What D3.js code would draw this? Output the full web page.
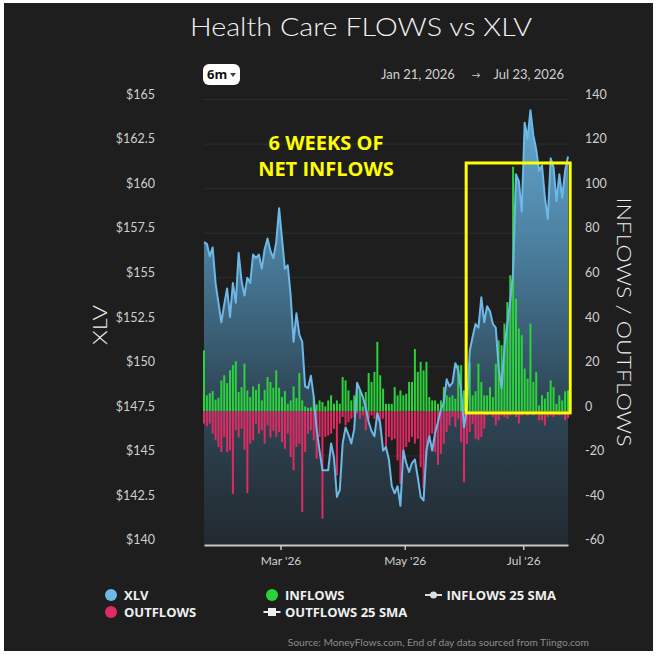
<!DOCTYPE html>
<html><head><meta charset="utf-8">
<script src="https://cdn.jsdelivr.net/npm/d3@7"></script>
<style>html,body{margin:0;padding:0;background:#fff;} svg{display:block;}</style>
</head><body><svg id="c" width="658" height="658"></svg>
<script>
// ---------- DATA ----------
const monthNames = ["Jan","Feb","Mar","Apr","May","Jun","Jul"];
const tradingDays = [
 [21,22,23,26,27,28,29,30],
 [2,3,4,5,6,9,10,11,12,13,17,18,19,20,23,24,25,26,27],
 [2,3,4,5,6,9,10,11,12,13,16,17,18,19,20,23,24,25,26,27,30,31],
 [1,2,6,7,8,9,10,13,14,15,16,17,20,21,22,23,24,27,28,29,30],
 [1,4,5,6,7,8,11,12,13,14,15,18,19,20,21,22,26,27,28,29],
 [1,2,3,4,5,8,9,10,11,12,15,16,17,18,22,23,24,25,26,29,30],
 [1,2,6,7,8,9,10,13,14,15,16,17,20,21,22,23]
];
const xlv = [
 157.0,156.9,156.2,156.7,154.7,153.6,152.5,153.5,154.4,152.8,
 154.7,153.6,156.4,154.8,154.0,155.0,154.7,156.3,156.1,156.3,
 155.5,156.6,157.2,156.5,156.1,157.0,158.9,157.2,155.5,155.7,
 154.0,151.4,153.0,151.8,151.4,148.9,148.8,149.5,148.3,146.5,
 145.3,144.2,144.2,144.2,145.7,144.9,142.7,143.1,145.7,146.6,
 146.2,145.7,146.5,149.1,148.7,148.3,147.7,146.9,146.4,146.1,
 147.4,146.8,145.3,145.5,144.8,143.3,142.9,143.3,142.2,145.3,
 144.6,144.1,144.6,144.8,143.8,142.7,142.5,145.3,146.1,145.3,
 146.3,146.9,147.6,148.0,149.3,148.9,149.1,150.2,149.8,148.7,
 146.6,147.6,150.9,151.7,152.4,152.2,153.9,152.5,153.4,153.1,
 152.4,152.2,149.9,148.8,151.1,152.4,153.7,155.3,160.8,160.4,
 158.7,163.7,162.8,164.4,163.0,162.2,161.0,161.3,159.5,158.3,
 161.7,161.2,159.3,160.8,159.5,161.0,161.8
];
const inflows = [
 27.4,7.2,8.2,9.1,5.2,6.1,13.9,16.2,12.7,18.4,
 20.7,22.5,8.7,10.9,21.4,9.4,6.4,11.2,9.7,12.4,
 4.9,9.7,15.4,13.2,10.6,18.4,10.6,6.4,9.1,3.4,
 4.9,11.2,6.0,17.2,4.9,2.2,1.6,1.8,6.4,3.1,
 4.9,4.2,2.2,4.9,7.2,3.4,4.9,3.4,15.4,13.9,
 9.4,4.9,7.2,11.7,9.7,2.2,8.7,17.2,13.2,17.7,
 31.2,16.2,10.2,3.4,3.4,3.4,10.9,7.2,9.4,7.2,
 7.9,13.2,13.2,28.0,17.7,22.2,18.4,22.2,6.4,4.9,
 4.9,3.4,4.9,10.9,7.2,6.4,7.2,5.7,20.7,20.7,
 9.4,10.2,22.0,7.2,9.0,21.4,13.2,7.2,7.2,10.9,
 6.4,21.4,31.9,29.7,39.4,49.1,61.1,109.8,50.6,37.2,
 34.2,19.2,14.7,39.4,13.2,17.7,2.7,7.2,5.7,8.7,
 13.9,10.9,3.4,7.2,4.9,9.0,9.4
];
const outflows = [
 -5.5,-6.7,-5.5,-10,-13,-16,-18.3,-11.5,-18.3,-17.5,
 -37,-8.5,-11.8,-7.8,-17.2,-36.7,-14.5,-13,-5.5,-10,
 -8.5,-14.5,-6.3,-11.8,-8.8,-11.5,-9.3,-13.8,-16.8,-10,
 -20.5,-26.5,-16,-14.5,-45.2,-18.3,-10,-8.5,-13,-21.3,
 -11.5,-48.2,-11.5,-10.8,-10,-7.8,-28.8,-5.5,-2.5,-6.3,
 -4.8,-3.3,-2.5,-1,-3.3,-1.8,-8.5,-3.3,-1.8,-3.3,
 -3.3,-8.5,-3.3,-17.5,-11.5,-13,-12.3,-22,-32.5,-20.5,
 -16,-13.8,-11.5,-14.5,-12.3,-25,-34.6,-20.5,-12.3,-10,
 -18.3,-24,-19,-14.5,-9.3,-6.3,-2.5,-7,-3.3,-13.8,
 -31.8,-14.5,-9.3,-5.5,-12.3,-13,-11.5,-7.8,-1.8,-1,
 -2.5,-6.3,-4,-1.8,-2.5,-3.3,-1.8,-1,-2.5,-5.5,
 -1.8,-1,-1.8,-1,-1.8,-1,-4,-4,-6.3,-2.5,
 -1.8,-2.5,-1.5,-1.8,-1.5,-4,-3
];
const priceTicks = [140,142.5,145,147.5,150,152.5,155,157.5,160,162.5,165];
const flowTicks = [-60,-40,-20,0,20,40,60,80,100,120,140];
const xTickLabels = ["Mar '26","May '26","Jul '26"];
const xTickMonths = ["Mar","May","Jul"];
const annotationLines = ["6 WEEKS OF","NET INFLOWS"];
const boxStart = "Jun 2", boxEnd = "Jul 23", boxTop = 111.5, boxBottom = -0.7;

// ---------- BUILD ----------
const dates = [];
tradingDays.forEach((days, m) => days.forEach(d => dates.push({m: monthNames[m], d})));
const rows = dates.map((dt, i) => ({i, dt, price: xlv[i], inf: inflows[i], out: outflows[i]}));

const svg = d3.select("#c");
const W = 658, H = 658;
const L = 204, R = 568, T = 99.5, B = 545;

svg.append("rect").attr("width", W).attr("height", H).attr("fill", "#ffffff");
svg.append("rect").attr("x", 4).attr("y", 3).attr("width", 649).attr("height", 648).attr("fill", "#1e1e1e");

const x = d3.scaleLinear().domain([0, rows.length - 1]).range([L, R]);
const yP = d3.scaleLinear().domain([140, 165]).range([B, T]);
const yF = d3.scaleLinear().domain([-60, 140]).range([B, T]);

const defs = svg.append("defs");
const grad = defs.append("linearGradient").attr("id", "ag")
  .attr("gradientUnits", "userSpaceOnUse").attr("x1", 0).attr("x2", 0)
  .attr("y1", yP(165)).attr("y2", yP(140));
[[0, "#66acd6"], [0.35, "#497c9b"], [0.65, "#304a5b"], [1, "#22292f"]]
  .forEach(([o, c]) => grad.append("stop").attr("offset", o).attr("stop-color", c));

// grid
svg.append("g").selectAll("line").data(priceTicks).join("line")
  .attr("x1", L).attr("x2", R).attr("y1", d => yP(d)).attr("y2", d => yP(d))
  .attr("stroke", "#2e2e2e").attr("stroke-width", 1);

// area + bars + line
svg.append("path").datum(rows)
  .attr("d", d3.area().x(d => x(d.i)).y0(yP(140)).y1(d => yP(d.price)))
  .attr("fill", "url(#ag)");

const bw = 2;
svg.append("g").selectAll("rect").data(rows).join("rect")
  .attr("x", d => x(d.i) - bw / 2).attr("width", bw)
  .attr("y", d => yF(d.inf)).attr("height", d => yF(0) - yF(d.inf))
  .attr("fill", "#2bd23a");
svg.append("g").selectAll("rect").data(rows).join("rect")
  .attr("x", d => x(d.i) - bw / 2).attr("width", bw)
  .attr("y", yF(0)).attr("height", d => yF(d.out) - yF(0))
  .attr("fill", "#e02a63");

svg.append("path").datum(rows)
  .attr("d", d3.line().x(d => x(d.i)).y(d => yP(d.price)))
  .attr("fill", "none").attr("stroke", "#6db8e6").attr("stroke-width", 2).attr("stroke-linejoin", "round");

// axes
const font = "Lato, 'Open Sans', sans-serif";
const tickPos = xTickMonths.map(m => rows.find(r => r.dt.m === m).i - 0.5);
const gx = svg.append("g").attr("transform", `translate(0,${B})`)
  .call(d3.axisBottom(x).tickValues(tickPos).tickFormat((d, k) => xTickLabels[k]).tickSize(5).tickSizeOuter(0).tickPadding(6));
gx.select(".domain").attr("stroke", "#c8c8c8").attr("stroke-width", 2);
gx.selectAll(".tick line").attr("stroke", "#c8c8c8").attr("stroke-width", 1.5);
gx.selectAll("text").attr("fill", "#cfcfcf").attr("font-size", 12).attr("font-family", font);

const gl = svg.append("g").attr("transform", "translate(155,0)")
  .call(d3.axisLeft(yP).tickValues(priceTicks).tickFormat(d => "$" + d).tickSize(0).tickPadding(0));
gl.select(".domain").remove();
gl.selectAll("text").attr("fill", "#cfcfcf").attr("font-size", 12.5).attr("font-family", font).attr("dy", "-0.1em");

const gr = svg.append("g").attr("transform", "translate(585,0)")
  .call(d3.axisRight(yF).tickValues(flowTicks).tickFormat(d => d).tickSize(0).tickPadding(0));
gr.select(".domain").remove();
gr.selectAll("text").attr("fill", "#cfcfcf").attr("font-size", 12.5).attr("font-family", font).attr("dy", "-0.1em");

// annotation box
const bi0 = rows.findIndex(r => (r.dt.m + " " + r.dt.d) === boxStart);
const bi1 = rows.findIndex(r => (r.dt.m + " " + r.dt.d) === boxEnd);
svg.append("rect")
  .attr("x", x(bi0 - 0.25)).attr("y", yF(boxTop))
  .attr("width", x(bi1 + 0.75) - x(bi0 - 0.25)).attr("height", yF(boxBottom) - yF(boxTop))
  .attr("fill", "none").attr("stroke", "#ffff00").attr("stroke-width", 3);

svg.append("g").selectAll("text").data(annotationLines).join("text")
  .attr("x", 326).attr("y", (d, k) => 150 + k * 26)
  .attr("text-anchor", "middle").attr("fill", "#ffff00")
  .attr("font-family", "'Open Sans', sans-serif").attr("font-weight", 700).attr("font-size", 20)
  .text(d => d);

// titles
svg.append("text").attr("x", 361).attr("y", 36).attr("text-anchor", "middle")
  .attr("font-family", font).attr("font-weight", 300).attr("font-size", 25)
  .attr("fill", "#f2f2f2").attr("textLength", 342).attr("lengthAdjust", "spacingAndGlyphs")
  .text("Health Care FLOWS vs XLV");

svg.append("rect").attr("x", 203).attr("y", 64).attr("width", 37).attr("height", 21).attr("rx", 6).attr("fill", "#ffffff");
svg.append("text").attr("x", 207).attr("y", 79).attr("font-family", "'Open Sans', sans-serif").attr("font-weight", 700)
  .attr("font-size", 13).attr("fill", "#111").text("6m");
svg.append("path").attr("d", "M230,73 L236,73 L233,77 Z").attr("fill", "#444");

svg.append("text").attr("x", 381).attr("y", 79).attr("font-family", font).attr("font-size", 13).attr("fill", "#d0d0d0").text("Jan 21, 2026");
svg.append("text").attr("x", 476).attr("y", 78).attr("text-anchor", "middle").attr("font-family", font).attr("font-size", 9).attr("fill", "#d0d0d0").text("→");
svg.append("text").attr("x", 564).attr("y", 79).attr("text-anchor", "end").attr("font-family", font).attr("font-size", 13).attr("fill", "#d0d0d0").text("Jul 23, 2026");

svg.append("text").attr("transform", "translate(107,325) rotate(-90)").attr("text-anchor", "middle")
  .attr("font-family", font).attr("font-weight", 300).attr("font-size", 20).attr("fill", "#eeeeee")
  .attr("textLength", 40).attr("lengthAdjust", "spacingAndGlyphs").text("XLV");
svg.append("text").attr("transform", "translate(617,322) rotate(90)").attr("text-anchor", "middle")
  .attr("font-family", font).attr("font-weight", 300).attr("font-size", 20).attr("fill", "#eeeeee")
  .attr("textLength", 249).attr("lengthAdjust", "spacingAndGlyphs").text("INFLOWS / OUTFLOWS");

// legend
const lg = svg.append("g").attr("font-family", "'Open Sans', sans-serif").attr("font-weight", 700).attr("font-size", 13).attr("fill", "#f0f0f0");
const legendItems = [
  {t: "XLV", x: 111, y: 595, c: "#6db8e6", k: "dot"},
  {t: "OUTFLOWS", x: 111, y: 612, c: "#e02a63", k: "dot"},
  {t: "INFLOWS", x: 272, y: 595, c: "#2bd23a", k: "dot"},
  {t: "OUTFLOWS 25 SMA", x: 272, y: 612, c: "#eeeeee", k: "square"},
  {t: "INFLOWS 25 SMA", x: 433.5, y: 595, c: "#dddddd", k: "lineDot"}
];
legendItems.forEach(it => {
  if (it.k === "dot") {
    lg.append("circle").attr("cx", it.x).attr("cy", it.y).attr("r", 6).attr("fill", it.c);
  } else {
    lg.append("line").attr("x1", it.x - 8.5).attr("x2", it.x + 8.5).attr("y1", it.y).attr("y2", it.y).attr("stroke", it.c).attr("stroke-width", 2);
    if (it.k === "square") lg.append("rect").attr("x", it.x - 4).attr("y", it.y - 4).attr("width", 8).attr("height", 8).attr("fill", it.c);
    else lg.append("circle").attr("cx", it.x).attr("cy", it.y).attr("r", 3.5).attr("fill", it.c);
  }
  lg.append("text").attr("x", it.x + 13).attr("y", it.y + 4.7).text(it.t);
});

svg.append("text").attr("x", 589).attr("y", 646).attr("text-anchor", "end")
  .attr("font-family", font).attr("font-size", 10.2).attr("fill", "#8c8c8c")
  .text("Source: MoneyFlows.com, End of day data sourced from Tiingo.com");
</script></body></html>
